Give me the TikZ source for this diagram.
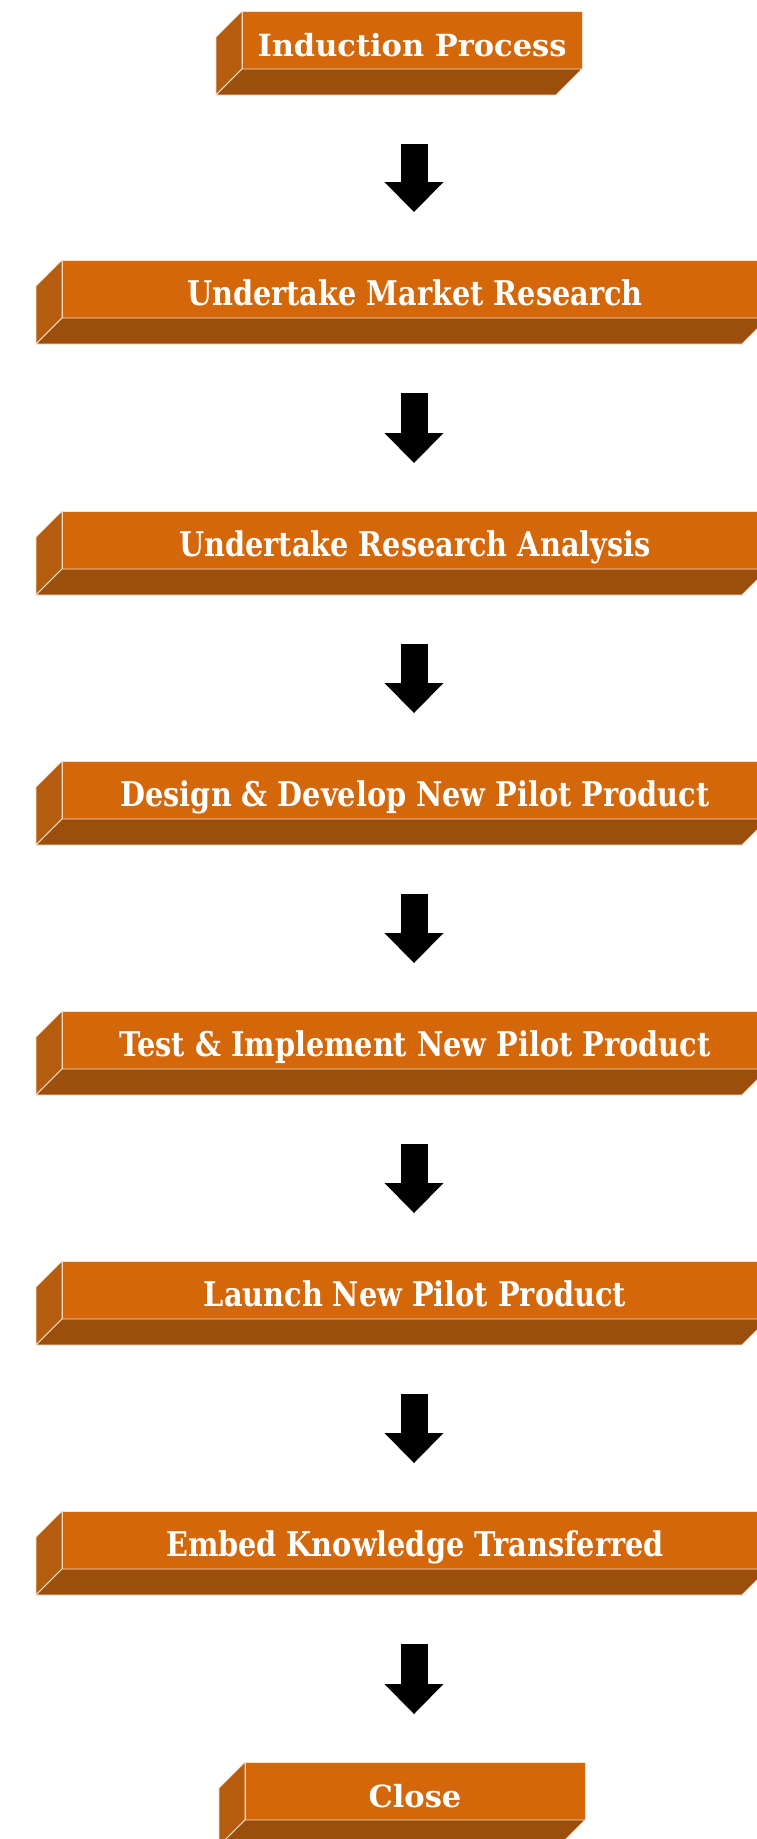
\documentclass[tikz,border=0pt]{standalone}
\usepackage{fontspec}
\usepackage{tikz}
\usetikzlibrary{arrows.meta, positioning, calc}
\newfontfamily\slabfont{DejaVu Serif Condensed}[FakeStretch=0.94]
\newfontfamily\titlefont{DejaVu Serif}
\definecolor{slabfront}{RGB}{211,103,10}
\definecolor{slabside}{RGB}{181,92,14}
\definecolor{slabbottom}{RGB}{156,78,13}
\definecolor{slabedge}{RGB}{246,226,206}

% left and bottom faces of a slab, drawn from the front node
\newcommand{\slabdepth}[1]{%
    \filldraw[slabside, draw=slabedge, line width=0.8pt] (#1.north west) -- ++(-26pt,-26pt)
        -- ($(#1.south west)+(-26pt,-26pt)$) -- (#1.south west) -- cycle;
    \filldraw[slabbottom, draw=slabedge, line width=0.8pt] (#1.south west) -- (#1.south east)
        -- ++(-26pt,-26pt) -- ($(#1.south west)+(-26pt,-26pt)$) -- cycle;
}

\begin{document}
\begin{tikzpicture}[
    x=1pt, y=-1pt,
    slab/.style={draw=slabedge, line width=0.8pt, fill=slabfront, outer sep=0pt, inner sep=0pt,
        minimum height=58pt, text=white, text height=40pt, text depth=8pt,
        font=\slabfont\bfseries\fontsize{34}{36}\selectfont},
    endslab/.style={slab, minimum width=340pt, font=\titlefont\bfseries\fontsize{30.5}{33}\selectfont},
    stepslab/.style={slab, minimum width=706pt},
    blockarrow/.style={line width=27pt, -{Triangle[width=59pt, length=30pt, line width=0pt]},
        shorten <=75pt, shorten >=48pt}
]
    \useasboundingbox (0,0) rectangle (756,1839);

    % process slabs, top to bottom
    \node[endslab] (induct) at (412,40) {Induction Process};
    \node[stepslab] (market) at (415,289) {Undertake Market Research};
    \node[stepslab] (analysis) at (415,540) {Undertake Research Analysis};
    \node[stepslab] (design) at (415,790) {Design \& Develop New Pilot Product};
    \node[stepslab] (test) at (415,1040) {Test \& Implement New Pilot Product};
    \node[stepslab] (launch) at (415,1290) {Launch New Pilot Product};
    \node[stepslab] (embed) at (415,1540) {Embed Knowledge Transferred};
    \node[endslab] (close) at (415,1791) {Close};

    % 3D depth of every slab
    \slabdepth{induct}
    \slabdepth{market}
    \slabdepth{analysis}
    \slabdepth{design}
    \slabdepth{test}
    \slabdepth{launch}
    \slabdepth{embed}
    \slabdepth{close}

    % block arrows between the slabs
    \draw[blockarrow] ([xshift=2pt]induct.south) -- ([xshift=2pt]induct.south |- market.north);
    \draw[blockarrow] ([xshift=-1pt]market.south) -- ([xshift=-1pt]analysis.north);
    \draw[blockarrow] ([xshift=-1pt]analysis.south) -- ([xshift=-1pt]design.north);
    \draw[blockarrow] ([xshift=-1pt]design.south) -- ([xshift=-1pt]test.north);
    \draw[blockarrow] ([xshift=-1pt]test.south) -- ([xshift=-1pt]launch.north);
    \draw[blockarrow] ([xshift=-1pt]launch.south) -- ([xshift=-1pt]embed.north);
    \draw[blockarrow] ([xshift=-1pt]embed.south) -- ([xshift=-1pt]close.north);

\end{tikzpicture}
\end{document}
